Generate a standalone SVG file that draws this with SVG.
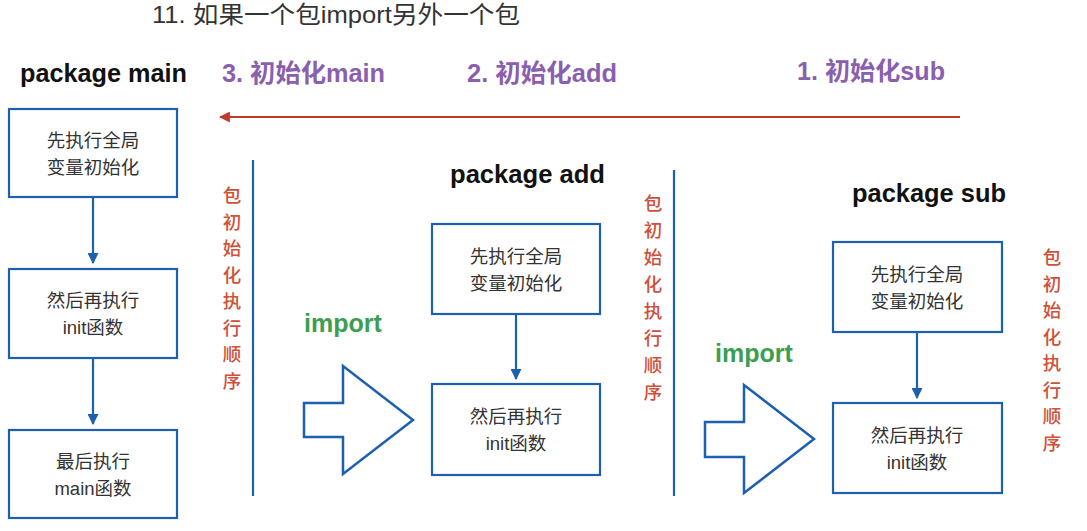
<svg xmlns="http://www.w3.org/2000/svg" width="1087" height="531" viewBox="0 0 1087 531">
<defs>
<style>
.box{fill:#fff;stroke:#1d5fb0;stroke-width:2.2}
.bt{font-family:"Liberation Sans","Noto Sans CJK SC",sans-serif;font-size:18.5px;fill:#333;text-anchor:middle}
.pk{font-family:"Liberation Sans","Noto Sans CJK SC",sans-serif;font-size:25px;font-weight:bold;fill:#111}
.st{font-family:"Liberation Sans","Noto Sans CJK SC",sans-serif;font-size:25px;font-weight:bold;fill:#8a5fae}
.im{font-family:"Liberation Sans",sans-serif;font-size:25px;font-weight:bold;fill:#3b9e52}
.vt{font-family:"Noto Sans CJK SC",sans-serif;font-size:18.5px;font-weight:500;fill:#d0503a;text-anchor:middle}
.conn{stroke:#1d5fb0;stroke-width:2.2;fill:none}
.blk{fill:#fff;stroke:#1d5fb0;stroke-width:2.5;stroke-linejoin:miter}
</style>
<marker id="ab" viewBox="0 0 10 10" refX="9" refY="5" markerWidth="5" markerHeight="5" orient="auto"><path d="M0,0L10,5L0,10z" fill="#1d5fb0"/></marker>
<marker id="ar" viewBox="0 0 10 10" refX="9" refY="5" markerWidth="5" markerHeight="5" orient="auto"><path d="M0,0L10,5L0,10z" fill="#c0392b"/></marker>
</defs>
<rect width="1087" height="531" fill="#fff"/>
<text x="152" y="23" font-family="Liberation Sans,'Noto Sans CJK SC',sans-serif" font-size="24" fill="#333" textLength="368" lengthAdjust="spacingAndGlyphs">11. 如果一个包import另外一个包</text>

<g id="labels">
<text class="pk" x="20" y="82" textLength="167" lengthAdjust="spacingAndGlyphs">package main</text>
<text class="st" x="222" y="82" textLength="163" lengthAdjust="spacingAndGlyphs">3. 初始化main</text>
<text class="st" x="467" y="82" textLength="150" lengthAdjust="spacingAndGlyphs">2. 初始化add</text>
<text class="st" x="797" y="80" textLength="148" lengthAdjust="spacingAndGlyphs">1. 初始化sub</text>
<text class="pk" x="450" y="183" textLength="155" lengthAdjust="spacingAndGlyphs">package add</text>
<text class="pk" x="852" y="202" textLength="154" lengthAdjust="spacingAndGlyphs">package sub</text>
<text class="im" x="304" y="332">import</text>
<text class="im" x="715" y="362">import</text>
</g>

<g id="order1"><text class="vt">
<tspan x="232" y="202">包</tspan><tspan x="232" y="229">初</tspan><tspan x="232" y="255">始</tspan><tspan x="232" y="282">化</tspan><tspan x="232" y="308">执</tspan><tspan x="232" y="335">行</tspan><tspan x="232" y="361">顺</tspan><tspan x="232" y="388">序</tspan></text></g>
<g id="order2"><text class="vt">
<tspan x="653" y="210">包</tspan><tspan x="653" y="237">初</tspan><tspan x="653" y="264">始</tspan><tspan x="653" y="291">化</tspan><tspan x="653" y="318">执</tspan><tspan x="653" y="345">行</tspan><tspan x="653" y="372">顺</tspan><tspan x="653" y="399">序</tspan></text></g>
<g id="order3"><text class="vt">
<tspan x="1052" y="264">包</tspan><tspan x="1052" y="291">初</tspan><tspan x="1052" y="317">始</tspan><tspan x="1052" y="344">化</tspan><tspan x="1052" y="370">执</tspan><tspan x="1052" y="397">行</tspan><tspan x="1052" y="423">顺</tspan><tspan x="1052" y="450">序</tspan></text></g>

<g id="main1"><rect class="box" x="9" y="109" width="168" height="88"/><text class="bt"><tspan x="93" y="147">先执行全局</tspan><tspan x="93" y="174">变量初始化</tspan></text></g>
<g id="main2"><rect class="box" x="9" y="269" width="168" height="89"/><text class="bt"><tspan x="93" y="307">然后再执行</tspan><tspan x="93" y="334">init函数</tspan></text></g>
<g id="main3"><rect class="box" x="9" y="430" width="168" height="88"/><text class="bt"><tspan x="93" y="468">最后执行</tspan><tspan x="93" y="495">main函数</tspan></text></g>
<g id="add1"><rect class="box" x="432" y="224" width="168" height="90"/><text class="bt"><tspan x="516" y="263">先执行全局</tspan><tspan x="516" y="290">变量初始化</tspan></text></g>
<g id="add2"><rect class="box" x="432" y="384" width="168" height="91"/><text class="bt"><tspan x="516" y="423">然后再执行</tspan><tspan x="516" y="450">init函数</tspan></text></g>
<g id="sub1"><rect class="box" x="833" y="242" width="169" height="90"/><text class="bt"><tspan x="917" y="281">先执行全局</tspan><tspan x="917" y="308">变量初始化</tspan></text></g>
<g id="sub2"><rect class="box" x="833" y="403" width="169" height="90"/><text class="bt"><tspan x="917" y="442">然后再执行</tspan><tspan x="917" y="469">init函数</tspan></text></g>

<g id="connectors">
<line class="conn" x1="93" y1="198" x2="93" y2="263" marker-end="url(#ab)"/>
<line class="conn" x1="93" y1="359" x2="93" y2="424" marker-end="url(#ab)"/>
<line class="conn" x1="516" y1="315" x2="516" y2="379" marker-end="url(#ab)"/>
<line class="conn" x1="917" y1="333" x2="917" y2="398" marker-end="url(#ab)"/>
<line x1="960" y1="117" x2="220" y2="117" stroke="#c0392b" stroke-width="2.2" marker-end="url(#ar)"/>
<line class="conn" x1="253" y1="160" x2="253" y2="496"/>
<line class="conn" x1="674" y1="170" x2="674" y2="496"/>
<path class="blk" d="M304,403H343V366L413,420L343,474V437H304Z"/>
<path class="blk" d="M705,422H744V385L814,439L744,493V457H705Z"/>
</g>
</svg>
